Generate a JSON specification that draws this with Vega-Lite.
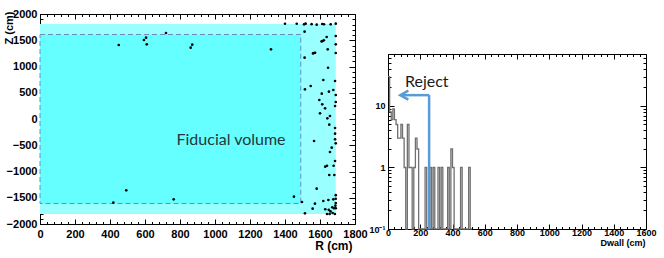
{
  "$schema": "https://vega.github.io/schema/vega-lite/v6.json",
  "padding": {"left": 2, "top": 7, "right": 2, "bottom": 2},
  "background": "white",
  "spacing": 0,
  "config": {
    "view": {"stroke": "black", "strokeWidth": 1},
    "axis": {"grid": false, "tickColor": "black", "domainColor": "black", "labelFont": "Liberation Sans", "labelFontWeight": "bold", "labelColor": "black", "titleFont": "Liberation Sans", "titleFontWeight": "bold", "titleColor": "black", "labelFlush": false, "labelOverlap": false, "labelBound": false}
  },
  "hconcat": [
    {
      "width": 315,
      "height": 210,
      "resolve": {"axis": {"x": "independent", "y": "independent"}},
      "layer": [
        {
          "data": {"values": [{"region": "Inner detector"}]},
          "mark": {"type": "rect", "fill": "#99ffff"},
          "encoding": {
            "x": {"datum": 0, "type": "quantitative", "scale": {"domain": [0, 1800], "nice": false, "zero": false},
              "axis": {"orient": "bottom", "values": [0, 200, 400, 600, 800, 1000, 1200, 1400, 1600, 1800], "format": "d", "tickSize": -5, "labelPadding": 9, "labelFontSize": 11, "title": "R (cm)", "titleFontSize": 12, "titleAlign": "right", "titleX": 312, "titleY": 25, "titleBaseline": "alphabetic"}},
            "x2": {"datum": 1690},
            "y": {"datum": -1810, "type": "quantitative", "scale": {"domain": [-2000, 2000], "nice": false, "zero": false},
              "axis": {"orient": "left", "values": [-2000, -1500, -1000, -500, 0, 500, 1000, 1500, 2000], "format": "d", "tickSize": -6, "labelPadding": 9, "labelFontSize": 11, "title": "Z (cm)", "titleFontSize": 11, "titleAngle": -90, "titleAlign": "right", "titleBaseline": "middle", "titleX": -31, "titleY": -3}},
            "y2": {"datum": 1810}
          }
        },
        {
          "data": {"values": [{"region": "Fiducial volume"}]},
          "mark": {"type": "rect", "fill": "#66ffff", "stroke": "#7088c4", "strokeWidth": 1, "strokeDash": [5, 3]},
          "encoding": {
            "x": {"datum": 0, "type": "quantitative",
              "axis": {"orient": "bottom", "values": [40, 80, 120, 160, 240, 280, 320, 360, 440, 480, 520, 560, 640, 680, 720, 760, 840, 880, 920, 960, 1040, 1080, 1120, 1160, 1240, 1280, 1320, 1360, 1440, 1480, 1520, 1560, 1640, 1680, 1720, 1760], "tickSize": -2.5, "labels": false, "domain": false, "title": null}},
            "x2": {"datum": 1490},
            "y": {"datum": -1610, "type": "quantitative",
              "axis": {"orient": "left", "values": [-1900, -1800, -1700, -1600, -1400, -1300, -1200, -1100, -900, -800, -700, -600, -400, -300, -200, -100, 100, 200, 300, 400, 600, 700, 800, 900, 1100, 1200, 1300, 1400, 1600, 1700, 1800, 1900], "tickSize": -3, "labels": false, "domain": false, "title": null}},
            "y2": {"datum": 1610}
          }
        },
        {
          "data": {"values": [
            {"R": 450, "Z": 1410}, {"R": 594, "Z": 1505}, {"R": 606, "Z": 1549}, {"R": 610, "Z": 1422}, {"R": 720, "Z": 1638}, {"R": 861, "Z": 1359}, {"R": 870, "Z": 1416}, {"R": 1320, "Z": 1327},
            {"R": 1400, "Z": 1815}, {"R": 1467, "Z": 1815}, {"R": 1509, "Z": 1803}, {"R": 1518, "Z": 1816}, {"R": 1552, "Z": 1806}, {"R": 1581, "Z": 1797}, {"R": 1613, "Z": 1810}, {"R": 1623, "Z": 1805}, {"R": 1661, "Z": 1803}, {"R": 1690, "Z": 1816},
            {"R": 1512, "Z": 1664}, {"R": 1638, "Z": 1562}, {"R": 1615, "Z": 1486}, {"R": 1622, "Z": 1500}, {"R": 1609, "Z": 1478}, {"R": 1690, "Z": 1581}, {"R": 1690, "Z": 1422}, {"R": 1644, "Z": 1327}, {"R": 1566, "Z": 1257}, {"R": 1572, "Z": 1262}, {"R": 1560, "Z": 1250}, {"R": 1690, "Z": 1257},
            {"R": 1512, "Z": 1168}, {"R": 1646, "Z": 977}, {"R": 1619, "Z": 743}, {"R": 1686, "Z": 724}, {"R": 1514, "Z": 565}, {"R": 1547, "Z": 629}, {"R": 1610, "Z": 483}, {"R": 1651, "Z": 521}, {"R": 1676, "Z": 552}, {"R": 1690, "Z": 457},
            {"R": 1596, "Z": 362}, {"R": 1613, "Z": 279}, {"R": 1629, "Z": 203}, {"R": 1690, "Z": 324}, {"R": 1686, "Z": 248}, {"R": 1600, "Z": 108}, {"R": 1657, "Z": 57}, {"R": 1642, "Z": 13}, {"R": 1653, "Z": -108}, {"R": 1686, "Z": -171},
            {"R": 1686, "Z": -279}, {"R": 1566, "Z": -419}, {"R": 1686, "Z": -387}, {"R": 1690, "Z": -463}, {"R": 1667, "Z": -546}, {"R": 1657, "Z": -629}, {"R": 1686, "Z": -800}, {"R": 1630, "Z": -908}, {"R": 1640, "Z": -890}, {"R": 1678, "Z": -890},
            {"R": 1682, "Z": -1067}, {"R": 1653, "Z": -1067}, {"R": 1581, "Z": -1327}, {"R": 1451, "Z": -1479}, {"R": 1497, "Z": -1581}, {"R": 1619, "Z": -1562}, {"R": 1648, "Z": -1543}, {"R": 1676, "Z": -1530}, {"R": 1690, "Z": -1450}, {"R": 1690, "Z": -1520},
            {"R": 1690, "Z": -1600}, {"R": 1688, "Z": -1650}, {"R": 1690, "Z": -1700}, {"R": 1571, "Z": -1613}, {"R": 1558, "Z": -1708}, {"R": 1514, "Z": -1797}, {"R": 1630, "Z": -1720}, {"R": 1650, "Z": -1730}, {"R": 1660, "Z": -1760}, {"R": 1672, "Z": -1790},
            {"R": 1680, "Z": -1700}, {"R": 1685, "Z": -1810}, {"R": 1655, "Z": -1810}, {"R": 1670, "Z": -1680}, {"R": 1640, "Z": -1810},
            {"R": 419, "Z": -1594}, {"R": 493, "Z": -1359}, {"R": 764, "Z": -1530}
          ]},
          "mark": {"type": "circle", "color": "black", "size": 7, "opacity": 1},
          "encoding": {
            "x": {"field": "R", "type": "quantitative",
              "axis": {"orient": "top", "values": [0, 200, 400, 600, 800, 1000, 1200, 1400, 1600, 1800], "tickSize": -5, "labels": false, "domain": false, "title": null}},
            "y": {"field": "Z", "type": "quantitative",
              "axis": {"orient": "right", "values": [-2000, -1500, -1000, -500, 0, 500, 1000, 1500, 2000], "tickSize": -6, "labels": false, "domain": false, "title": null}}
          }
        },
        {
          "data": {"values": [{"label": "Fiducial volume"}]},
          "mark": {"type": "text", "font": "Lato", "fontSize": 16, "color": "#25363c", "align": "left", "baseline": "middle"},
          "encoding": {
            "text": {"field": "label"},
            "x": {"datum": 780, "type": "quantitative",
              "axis": {"orient": "top", "values": [40, 80, 120, 160, 240, 280, 320, 360, 440, 480, 520, 560, 640, 680, 720, 760, 840, 880, 920, 960, 1040, 1080, 1120, 1160, 1240, 1280, 1320, 1360, 1440, 1480, 1520, 1560, 1640, 1680, 1720, 1760], "tickSize": -2.5, "labels": false, "domain": false, "title": null}},
            "y": {"datum": -400, "type": "quantitative",
              "axis": {"orient": "right", "values": [-1900, -1800, -1700, -1600, -1400, -1300, -1200, -1100, -900, -800, -700, -600, -400, -300, -200, -100, 100, 200, 300, 400, 600, 700, 800, 900, 1100, 1200, 1300, 1400, 1600, 1700, 1800, 1900], "tickSize": -3, "labels": false, "domain": false, "title": null}}
          }
        }
      ]
    },
    {
      "spacing": 0,
      "vconcat": [
        {
          "width": 258,
          "height": 39,
          "view": {"stroke": null},
          "data": {"values": [{"note": "spacer"}]},
          "mark": {"type": "point", "opacity": 0},
          "encoding": {}
        },
        {
          "width": 258,
          "height": 175,
          "resolve": {"axis": {"x": "independent", "y": "independent"}},
          "layer": [
            {
              "data": {"values": [
                {"Dwall": 0, "count": 30}, {"Dwall": 10, "count": 8}, {"Dwall": 20, "count": 6}, {"Dwall": 30, "count": 9}, {"Dwall": 40, "count": 6}, {"Dwall": 50, "count": 5}, {"Dwall": 60, "count": 3}, {"Dwall": 70, "count": 3}, {"Dwall": 80, "count": 5}, {"Dwall": 90, "count": 3},
                {"Dwall": 100, "count": 1}, {"Dwall": 110, "count": 0}, {"Dwall": 120, "count": 5}, {"Dwall": 130, "count": 1}, {"Dwall": 140, "count": 1}, {"Dwall": 150, "count": 0}, {"Dwall": 160, "count": 1}, {"Dwall": 170, "count": 3}, {"Dwall": 180, "count": 2}, {"Dwall": 190, "count": 0},
                {"Dwall": 200, "count": 0}, {"Dwall": 210, "count": 0}, {"Dwall": 220, "count": 0}, {"Dwall": 230, "count": 1}, {"Dwall": 240, "count": 0}, {"Dwall": 250, "count": 0}, {"Dwall": 260, "count": 1}, {"Dwall": 270, "count": 0}, {"Dwall": 280, "count": 1}, {"Dwall": 290, "count": 0},
                {"Dwall": 300, "count": 0}, {"Dwall": 310, "count": 1}, {"Dwall": 320, "count": 0}, {"Dwall": 330, "count": 1}, {"Dwall": 340, "count": 0}, {"Dwall": 350, "count": 0}, {"Dwall": 360, "count": 0}, {"Dwall": 370, "count": 1}, {"Dwall": 380, "count": 0}, {"Dwall": 390, "count": 2},
                {"Dwall": 400, "count": 1}, {"Dwall": 410, "count": 0}, {"Dwall": 420, "count": 0}, {"Dwall": 430, "count": 0}, {"Dwall": 440, "count": 0}, {"Dwall": 450, "count": 1}, {"Dwall": 460, "count": 0}, {"Dwall": 470, "count": 0}, {"Dwall": 480, "count": 0}, {"Dwall": 490, "count": 0},
                {"Dwall": 500, "count": 1}, {"Dwall": 510, "count": 0}, {"Dwall": 520, "count": 0}
              ]},
              "mark": {"type": "line", "interpolate": "step-after", "color": "#707070", "strokeWidth": 1.3},
              "encoding": {
                "x": {"field": "Dwall", "type": "quantitative", "scale": {"domain": [0, 1600], "nice": false, "zero": false},
                  "axis": {"orient": "bottom", "values": [0, 200, 400, 600, 800, 1000, 1200, 1400, 1600], "format": "d", "tickSize": -5, "labelPadding": 4, "labelFontSize": 9, "title": "Dwall (cm)", "titleFontSize": 9, "titleAlign": "right", "titleX": 257, "titleY": 16, "titleBaseline": "alphabetic"}},
                "y": {"field": "count", "type": "quantitative", "scale": {"type": "log", "domain": [0.1, 70], "nice": false, "clamp": true},
                  "axis": {"orient": "left", "values": [0.1, 1, 10], "labelExpr": "datum.value < 0.5 ? '10⁻¹' : format(datum.value, 'd')", "tickSize": -6, "labelPadding": 9, "labelFontSize": 9, "title": null}}
              }
            },
            {
              "data": {"values": [{"cut": "Reject"}]},
              "mark": {"type": "rule", "color": "#5b9bd5", "strokeWidth": 2.5},
              "encoding": {
                "x": {"datum": 255, "type": "quantitative",
                  "axis": {"orient": "bottom", "values": [40, 80, 120, 160, 240, 280, 320, 360, 440, 480, 520, 560, 640, 680, 720, 760, 840, 880, 920, 960, 1040, 1080, 1120, 1160, 1240, 1280, 1320, 1360, 1440, 1480, 1520, 1560], "tickSize": -2.5, "labels": false, "domain": false, "title": null}},
                "y": {"datum": 0.1, "type": "quantitative",
                  "axis": {"orient": "left", "values": [0.2, 0.3, 0.4, 0.5, 0.6, 0.7, 0.8, 0.9, 2, 3, 4, 5, 6, 7, 8, 9, 20, 30, 40, 50, 60, 70], "tickSize": -3, "labels": false, "domain": false, "title": null}},
                "y2": {"datum": 15}
              }
            },
            {
              "data": {"values": [{"cut": "Reject"}]},
              "mark": {"type": "rule", "color": "#5b9bd5", "strokeWidth": 2.5},
              "encoding": {
                "x": {"datum": 80, "type": "quantitative",
                  "axis": {"orient": "top", "values": [0, 200, 400, 600, 800, 1000, 1200, 1400, 1600], "tickSize": -5, "labels": false, "domain": false, "title": null}},
                "x2": {"datum": 256},
                "y": {"datum": 15, "type": "quantitative",
                  "axis": {"orient": "right", "values": [0.1, 1, 10], "tickSize": -6, "labels": false, "domain": false, "title": null}}
              }
            },
            {
              "data": {"values": [{"cut": "Reject"}]},
              "mark": {"type": "point", "shape": "M 1.8 -1 L 0 0 L 1.8 1", "size": 81, "filled": false, "color": "#5b9bd5", "strokeWidth": 2.5, "opacity": 1},
              "encoding": {
                "x": {"datum": 76, "type": "quantitative",
                  "axis": {"orient": "top", "values": [40, 80, 120, 160, 240, 280, 320, 360, 440, 480, 520, 560, 640, 680, 720, 760, 840, 880, 920, 960, 1040, 1080, 1120, 1160, 1240, 1280, 1320, 1360, 1440, 1480, 1520, 1560], "tickSize": -2.5, "labels": false, "domain": false, "title": null}},
                "y": {"datum": 15, "type": "quantitative",
                  "axis": {"orient": "right", "values": [0.2, 0.3, 0.4, 0.5, 0.6, 0.7, 0.8, 0.9, 2, 3, 4, 5, 6, 7, 8, 9, 20, 30, 40, 50, 60, 70], "tickSize": -3, "labels": false, "domain": false, "title": null}}
              }
            },
            {
              "data": {"values": [{"label": "Reject"}]},
              "mark": {"type": "text", "font": "Lato", "fontSize": 16, "color": "#1a1a1a", "align": "left", "baseline": "middle"},
              "encoding": {
                "text": {"field": "label"},
                "x": {"datum": 105, "type": "quantitative", "axis": null},
                "y": {"datum": 25, "type": "quantitative", "axis": null}
              }
            }
          ]
        }
      ]
    }
  ]
}
